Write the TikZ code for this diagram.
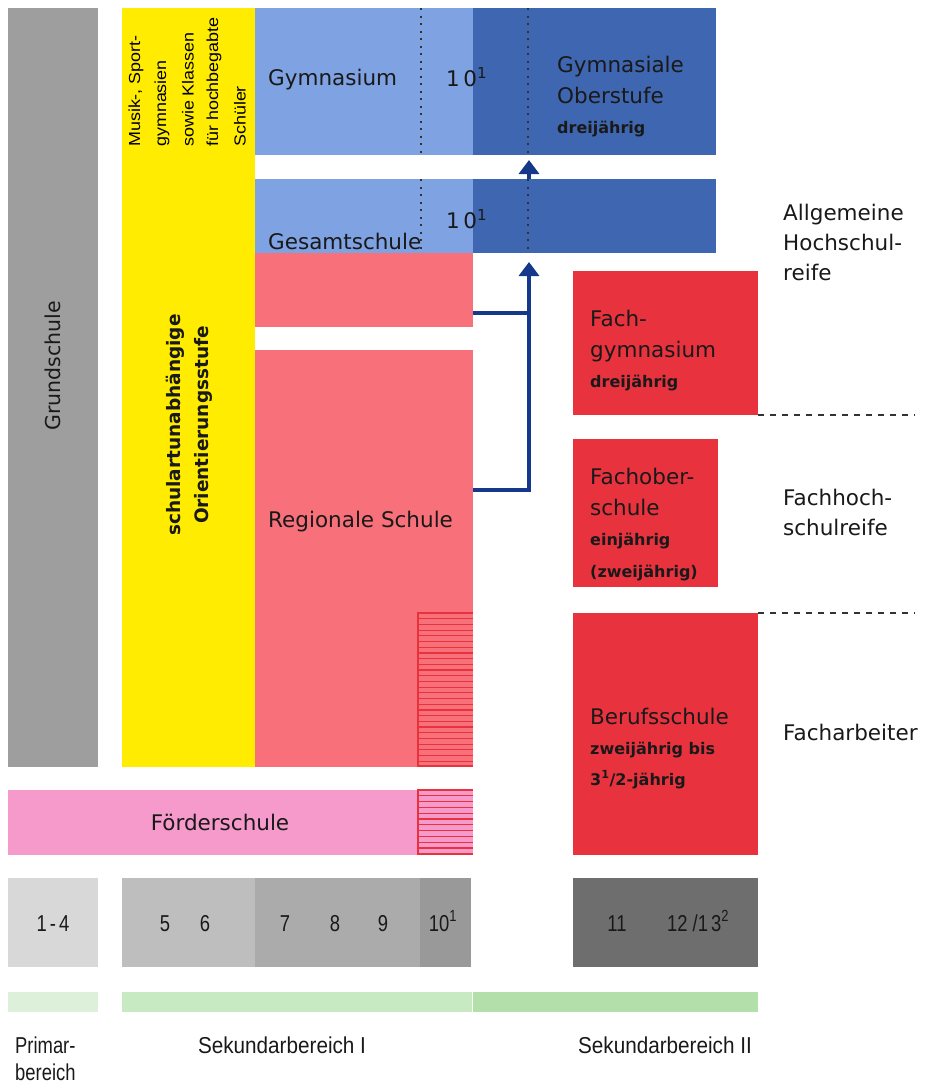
\documentclass[tikz,border=0pt]{standalone}
\usepackage{fontspec}
\setmainfont{DejaVu Sans}
\newfontfamily\narrowf{Liberation Sans}
\usetikzlibrary{arrows.meta}
\definecolor{grundgray}{HTML}{9E9E9E}
\definecolor{orientyellow}{HTML}{FFEC00}
\definecolor{lightblue}{HTML}{7FA2E2}
\definecolor{darkblue}{HTML}{3F66B0}
\definecolor{regpink}{HTML}{F7707A}
\definecolor{foerdpink}{HTML}{F59ACB}
\definecolor{fachred}{HTML}{E8333F}
\definecolor{navy}{HTML}{15388A}
\definecolor{gA}{HTML}{D8D8D8}
\definecolor{gB}{HTML}{BEBEBE}
\definecolor{gC}{HTML}{ABABAB}
\definecolor{gD}{HTML}{999999}
\definecolor{gE}{HTML}{6E6E6E}
\definecolor{grA}{HTML}{DDF0DA}
\definecolor{grB}{HTML}{C8EAC3}
\definecolor{grC}{HTML}{B3DFAB}
\newcommand\nrw[1]{\scalebox{0.8}[1]{#1}}
\tikzset{
  blk/.style={draw=none, inner sep=0pt, outer sep=0pt, anchor=north west},
  ttl/.style={anchor=base west, inner sep=0pt, font=\fontsize{21.5}{21.5}\selectfont, text=black!90},
  sub/.style={anchor=base west, inner sep=0pt, font=\fontsize{16}{16}\selectfont\bfseries, text=black!90},
  num/.style={anchor=base, inner sep=0pt, font=\narrowf\fontsize{23}{23}\selectfont, text=black!90},
  lbl/.style={inner sep=0pt, font=\narrowf\fontsize{23}{23}\selectfont, text=black!90},
  tiny/.style={rotate=90, anchor=west, inner sep=0pt, font=\narrowf\fontsize{16}{16}\selectfont, text=black},
  dotv/.style={black!80, line width=2pt, dash pattern=on 2pt off 5.5pt},
  dashh/.style={black!80, line width=1.3pt, dash pattern=on 6pt off 6pt},
  arr/.style={navy, line width=3.5pt, -{Triangle[width=20pt,length=14pt]}},
  arrl/.style={navy, line width=3.5pt},
  hatch/.style={fachred, line width=1.2pt},
}
\begin{document}
\begin{tikzpicture}[x=1pt,y=-1pt]
\useasboundingbox (0,0) rectangle (937,1084);
% columns
\node[blk, fill=grundgray, minimum width=90pt, minimum height=759pt] (grund) at (8,8) {};
\node[blk, fill=orientyellow, minimum width=133pt, minimum height=759pt] (orient) at (122,8) {};
% blue
\node[blk, fill=lightblue, minimum width=218pt, minimum height=147pt] (gym) at (255,8) {};
\node[blk, fill=darkblue, minimum width=243pt, minimum height=147pt] (gymo) at (473,8) {};
\node[blk, fill=lightblue, minimum width=218pt, minimum height=74pt] (ges) at (255,179) {};
\node[blk, fill=darkblue, minimum width=243pt, minimum height=74pt] (geso) at (473,179) {};
% pink
\node[blk, fill=regpink, minimum width=218pt, minimum height=74pt] (regA) at (255,253) {};
\node[blk, fill=regpink, minimum width=218pt, minimum height=417pt] (regB) at (255,350) {};
\node[blk, fill=foerdpink, minimum width=465pt, minimum height=65pt] (foerd) at (8,790) {};
% hatches
\node[blk, minimum width=56pt, minimum height=154pt] (hatA) at (417,613) {};
\node[blk, minimum width=56pt, minimum height=65pt] (hatB) at (417,790) {};
\foreach \yy in {0,5.7,...,150} \draw[hatch] (417,613+\yy) -- (473,613+\yy);
\draw[hatch] (417,766) -- (473,766);
\draw[hatch] (418,613) -- (418,767);
\foreach \yy in {0,5.8,...,62} \draw[hatch] (417,790+\yy) -- (473,790+\yy);
\draw[hatch] (417,854) -- (473,854);
\draw[hatch] (418,790) -- (418,855);
% red
\node[blk, fill=fachred, minimum width=185pt, minimum height=144pt] (fgym) at (573,271) {};
\node[blk, fill=fachred, minimum width=145pt, minimum height=148pt] (fos) at (573,439) {};
\node[blk, fill=fachred, minimum width=185pt, minimum height=242pt] (beruf) at (573,613) {};
% dotted lines
\coordinate (dxA) at (421,0);
\coordinate (dxB) at (528,0);
\draw[dotv] (dxA |- gym.north) -- (dxA |- gym.south);
\draw[dotv] (dxA |- ges.north) -- (dxA |- ges.south);
\draw[dotv] (dxB |- gymo.north) -- (dxB |- gymo.south);
\draw[dotv] (dxB |- geso.north) -- (dxB |- geso.south);
% arrows
\coordinate (ax) at (529,0);
\draw[arr] (ax |- geso.north) -- ([yshift=-5pt]ax |- gymo.south);
\coordinate (jA) at (473,313);
\coordinate (jB) at (473,490);
\draw[arrl] (regB.east |- jB) -- (ax |- jB) -- (ax |- jA);
\draw[arr] (regA.east |- jA) -- (ax |- jA) -- ([yshift=-9pt]ax |- geso.south);
% dashed
\coordinate (dr) at (915,0);
\draw[dashh] (fgym.south east) -- (dr |- fgym.south);
\draw[dashh] (beruf.north east) -- (dr |- beruf.north);
% rotated texts
\node[rotate=90, inner sep=0pt, font=\fontsize{20.5}{20.5}\selectfont, text=black!90] (tgrund) at (53,366) {Grundschule};
\node[rotate=90, inner sep=0pt, align=center, font=\fontsize{18.5}{28}\selectfont\bfseries, text=black!90] (torient) at (189,425) {schulartunabhängige\\Orientierungsstufe};
\node[tiny] (tm1) at (136,147) {\scalebox{1.12}[1]{Musik-, Sport-}};
\node[tiny] (tm2) at (162,147) {\scalebox{1.12}[1]{gymnasien}};
\node[tiny] (tm3) at (188,147) {\scalebox{1.12}[1]{sowie Klassen}};
\node[tiny] (tm4) at (214,147) {\scalebox{1.12}[1]{für hochbegabte}};
\node[tiny] (tm5) at (240,147) {\scalebox{1.12}[1]{Schüler}};
% block texts
\node[ttl] (tgym) at (268,85) {Gymnasium};
\node[ttl] (t10a) at (446,86) {1\,0\textsuperscript{1}};
\node[ttl] (tgo1) at (557,72) {Gymnasiale};
\node[ttl] (tgo2) at (557,103) {Oberstufe};
\node[sub] (tgo3) at (557,133) {dreijährig};
\node[ttl] (tges) at (268,249) {Gesamtschule};
\node[ttl] (t10b) at (446,228) {1\,0\textsuperscript{1}};
\node[ttl] (treg) at (268,527) {Regionale Schule};
\node[ttl, anchor=base] (tfoerd) at (220,830) {Förderschule};
\node[ttl] (tfg1) at (590,326) {Fach-};
\node[ttl] (tfg2) at (590,357) {gymnasium};
\node[sub] (tfg3) at (590,387) {dreijährig};
\node[ttl] (tfo1) at (590,484) {Fachober-};
\node[ttl] (tfo2) at (590,515) {schule};
\node[sub] (tfo3) at (590,545) {einjährig};
\node[sub] (tfo4) at (590,577) {(zweijährig)};
\node[ttl] (tbs1) at (590,724) {Berufsschule};
\node[sub] (tbs2) at (590,754) {zweijährig bis};
\node[sub] (tbs3) at (590,785) {3\textsuperscript{1}/2-jährig};
% right labels
\node[ttl] (tah1) at (783,220) {Allgemeine};
\node[ttl] (tah2) at (783,250) {Hochschul-};
\node[ttl] (tah3) at (783,280) {reife};
\node[ttl] (tfh1) at (783,505) {Fachhoch-};
\node[ttl] (tfh2) at (783,535) {schulreife};
\node[ttl] (tfa) at (783,740) {Facharbeiter};
% grade boxes
\node[blk, fill=gA, minimum width=90pt, minimum height=89pt] (k1) at (8,878) {};
\node[blk, fill=gB, minimum width=133pt, minimum height=89pt] (k5) at (122,878) {};
\node[blk, fill=gC, minimum width=165pt, minimum height=89pt] (k7) at (255,878) {};
\node[blk, fill=gD, minimum width=51pt, minimum height=89pt] (k10) at (420,878) {};
\node[blk, fill=gE, minimum width=185pt, minimum height=89pt] (k11) at (573,878) {};
\node[num] (n14) at (53,931) {\nrw{1\,-\,4}};
\node[num] (n5) at (165,931) {\nrw{5}};
\node[num] (n6) at (205,931) {\nrw{6}};
\node[num] (n7) at (285,931) {\nrw{7}};
\node[num] (n8) at (335,931) {\nrw{8}};
\node[num] (n9) at (383,931) {\nrw{9}};
\node[num] (n10) at (443,931) {\nrw{10\textsuperscript{1}}};
\node[num] (n11) at (617,931) {\nrw{11}};
\node[num] (n12) at (698,931) {\nrw{12 /1\,3\textsuperscript{2}}};
% green bars
\node[blk, fill=grA, minimum width=90pt, minimum height=20pt] (gb1) at (8,992) {};
\node[blk, fill=grB, minimum width=350pt, minimum height=20pt] (gb2) at (122,992) {};
\node[blk, fill=grC, minimum width=285pt, minimum height=20pt] (gb3) at (473,992) {};
% bottom labels
\node[lbl, anchor=base west] (lp1) at (15,1053) {\nrw{Primar-}};
\node[lbl, anchor=base west] (lp2) at (15,1080) {\nrw{bereich}};
\node[lbl, anchor=base] (ls1) at (282,1053) {\scalebox{0.9}[1]{Sekundarbereich I}};
\node[lbl, anchor=base] (ls2) at (665,1053) {\scalebox{0.9}[1]{Sekundarbereich II}};
\end{tikzpicture}
\end{document}
